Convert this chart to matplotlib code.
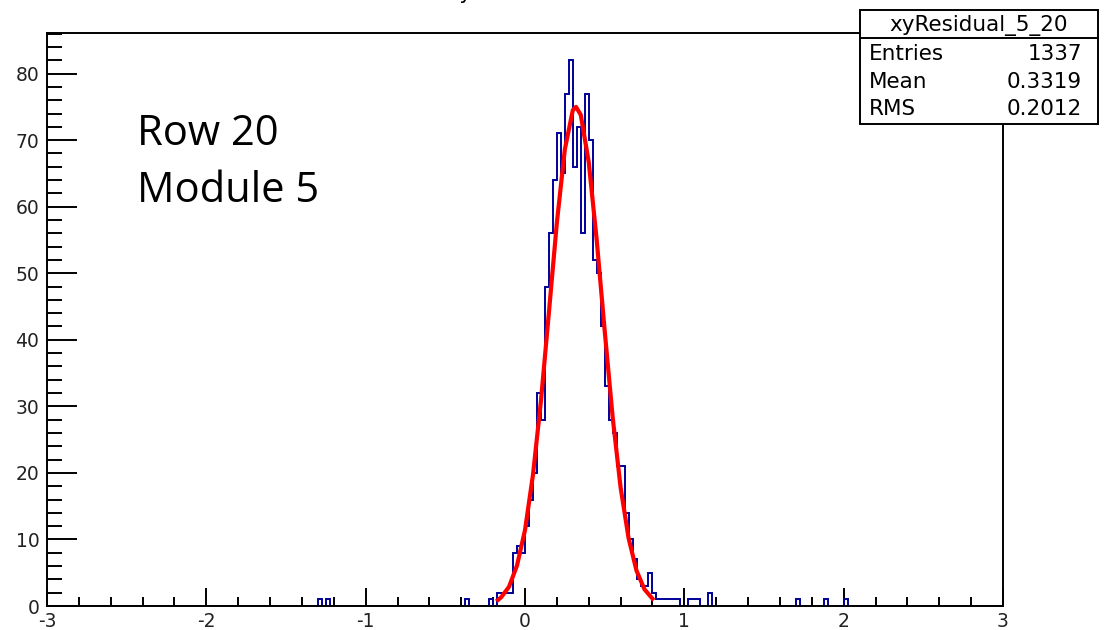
import numpy as np
import matplotlib.pyplot as plt
from matplotlib.ticker import MultipleLocator
from matplotlib.patches import Rectangle


# 直方图：240 个 bin，范围 -3 到 3，只列出非零的 bin（下边界 -> 计数）
X_MIN, X_MAX = -3.0, 3.0
N_BINS = 240

bin_low = [
    -1.3, -1.25, -0.375, -0.225,
    -0.175, -0.15, -0.125, -0.1, -0.075, -0.05, -0.025,
    0.0, 0.025, 0.05, 0.075, 0.1, 0.125, 0.15, 0.175, 0.2, 0.225,
    0.25, 0.275, 0.3, 0.325, 0.35, 0.375, 0.4, 0.425, 0.45, 0.475,
    0.5, 0.525, 0.55, 0.575, 0.6, 0.625, 0.65, 0.675, 0.7, 0.725,
    0.75, 0.775, 0.8,
    0.825, 0.85, 0.875, 0.9, 0.925, 0.95,
    1.025, 1.05, 1.075, 1.15,
    1.7, 1.875, 2.0,
]
bin_count = [
    1, 1, 1, 1,
    2, 2, 2, 2, 8, 9, 8,
    12, 16, 20, 32, 28, 48, 56, 64, 71, 65,
    77, 82, 66, 72, 56, 77, 70, 52, 50, 42,
    33, 28, 26, 21, 21, 14, 10, 7, 4, 3,
    3, 5, 2,
    1, 1, 1, 1, 1, 1,
    1, 1, 1, 2,
    1, 1, 1,
]

# 拟合曲线（从图上读出的点）
fit_x = [-0.17, -0.15, -0.1, -0.05, 0.0, 0.05, 0.1, 0.15, 0.2, 0.25, 0.3,
         0.32, 0.35, 0.4, 0.45, 0.5, 0.55, 0.6, 0.65, 0.7, 0.75, 0.8]
fit_y = [0.9, 1.3, 2.9, 6.1, 11.4, 19.7, 30.8, 44.1, 57.6, 68.6, 74.5,
         75.0, 73.8, 66.7, 55.0, 41.4, 28.4, 17.8, 10.2, 5.3, 2.5, 1.1]

hist_name = "xyResidual_5_20"
hist_title = "xyResidual 5 20"
stats_labels = ["Entries", "Mean", "RMS"]
stats_values = ["1337", "0.3319", "0.2012"]
note_lines = ["Row 20", "Module 5"]

W, H = 1105, 630


def fx(px):
    return px / W


def fy(py):
    return 1 - py / H


def main():
    plt.rcParams["font.family"] = ["DejaVu Sans"]
    plt.rcParams["axes.unicode_minus"] = False

    edges = np.linspace(X_MIN, X_MAX, N_BINS + 1)
    counts = np.zeros(N_BINS)
    idx = np.round((np.array(bin_low) - X_MIN) / 0.025).astype(int)
    counts[idx] = bin_count

    fig = plt.figure(figsize=(W / 100, H / 100), dpi=100)
    ax = fig.add_axes([fx(47), fy(606), fx(1003) - fx(47), fy(33) - fy(606)])

    ax.stairs(counts, edges, color="#000099", linewidth=1.4, zorder=2)
    ax.plot(fit_x, fit_y, color="#ff0000", linewidth=3, zorder=3,
            solid_joinstyle="round")

    ax.set_xlim(X_MIN, X_MAX)
    ax.set_ylim(0, 86.1)

    ax.xaxis.set_major_locator(MultipleLocator(1))
    ax.xaxis.set_minor_locator(MultipleLocator(0.2))
    ax.yaxis.set_major_locator(MultipleLocator(10))
    ax.yaxis.set_minor_locator(MultipleLocator(2))

    ax.tick_params(axis="x", which="major", direction="in", length=13,
                   width=1.4, labelsize=13.5, pad=4, labelcolor="#222222")
    ax.tick_params(axis="x", which="minor", direction="in", length=6.5,
                   width=1.4)
    ax.tick_params(axis="y", which="major", direction="in", length=21.5,
                   width=1.4, labelsize=13.5, pad=5.5, labelcolor="#222222")
    ax.tick_params(axis="y", which="minor", direction="in", length=10.5,
                   width=1.4)
    for spine in ax.spines.values():
        spine.set_linewidth(1.4)

    # 左上角的注释文字
    ax.text(fx(137), fy(145), note_lines[0], transform=fig.transFigure,
            family=["Open Sans", "DejaVu Sans"], fontsize=30, va="baseline")
    ax.text(fx(137), fy(202), note_lines[1], transform=fig.transFigure,
            family=["Open Sans", "DejaVu Sans"], fontsize=30, va="baseline")

    # 被裁掉的标题（只露出 y 的下半部分）
    fig.text(fx(447), fy(-1), hist_title, fontsize=15, va="baseline")

    # 统计框
    box = Rectangle((fx(860), fy(124)), fx(1098) - fx(860), fy(10) - fy(124),
                    transform=fig.transFigure, facecolor="white",
                    edgecolor="black", linewidth=1.4, zorder=5)
    fig.patches.append(box)
    fig.add_artist(plt.Line2D([fx(860), fx(1098)], [fy(38), fy(38)],
                              color="black", linewidth=1.4, zorder=6))
    fig.text((fx(860) + fx(1098)) / 2, fy(31), hist_name, fontsize=15.5,
             ha="center", va="baseline", zorder=7)
    for i, (label, value) in enumerate(zip(stats_labels, stats_values)):
        base = fy(60 + i * 27.5)
        fig.text(fx(869), base, label, fontsize=15.5, va="baseline", zorder=7)
        fig.text(fx(1082), base, value, fontsize=15.5, ha="right",
                 va="baseline", zorder=7)

    fig.savefig("out.png", dpi=100)


if __name__ == "__main__":
    main()
